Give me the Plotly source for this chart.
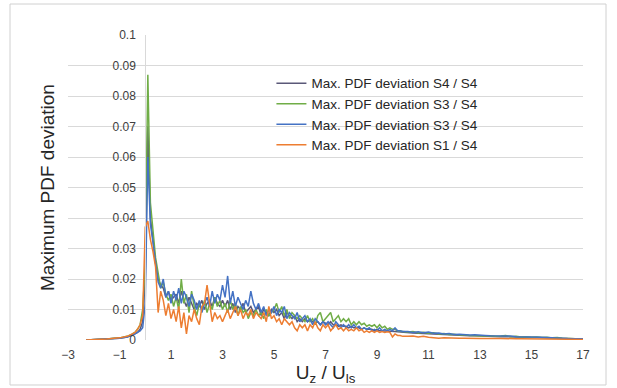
import plotly.graph_objects as go

# ---- sampling positions (U_z / U_ls) ----
x_left = [-2.3, -2.0, -1.5, -1.0, -0.7, -0.5, -0.4, -0.3, -0.2, -0.1]
x_core = [0.0, 0.1, 0.2, 0.3, 0.4, 0.5, 0.6, 0.7, 0.8, 0.9,
          1.0, 1.1, 1.2, 1.3, 1.4, 1.5, 1.6, 1.7, 1.8, 1.9,
          2.0, 2.1, 2.2, 2.3, 2.4, 2.5, 2.6, 2.7, 2.8, 2.9,
          3.0, 3.1, 3.2, 3.3, 3.4, 3.5, 3.6, 3.7, 3.8, 3.9,
          4.0, 4.1, 4.2, 4.3, 4.4, 4.5, 4.6, 4.7, 4.8, 4.9,
          5.0, 5.1, 5.2, 5.3, 5.4, 5.5, 5.6, 5.7, 5.8, 5.9,
          6.0, 6.1, 6.2, 6.3, 6.4, 6.5, 6.6, 6.7, 6.8, 6.9,
          7.0, 7.1, 7.2, 7.3, 7.4, 7.5, 7.6, 7.7, 7.8, 7.9,
          8.0, 8.1, 8.2, 8.3, 8.4, 8.5, 8.6, 8.7, 8.8, 8.9,
          9.0, 9.1, 9.2, 9.3, 9.4, 9.5, 9.6, 9.7, 9.8, 9.9,
          10.0]
x_tail = [10.2, 10.4, 10.6, 10.8, 11.0, 11.2, 11.4, 11.6, 11.8, 12.0,
          12.2, 12.4, 12.6, 12.8, 13.0, 13.2, 13.4, 13.6, 13.8, 14.0,
          14.2, 14.4, 14.6, 14.8, 15.0, 15.2, 15.4, 15.6, 15.8, 16.0,
          16.2, 16.4, 16.6, 16.8, 17.0]

# ---- series values, in thousandths of PDF deviation ----
s44_left = [0, 0.1, 0.3, 0.6, 1.0, 1.5, 2, 2.5, 3.5, 6]
s44_core = [20, 70, 40, 33, 25, 20, 18, 17, 14, 16, 13,
            14, 15, 12, 16, 13, 11, 14, 12, 10, 12, 11, 13, 10, 12, 13, 11, 14, 12, 11, 13,
            11, 13, 10, 12, 9, 11, 10, 12, 9, 10, 11, 9, 10, 11, 8, 10, 9, 8, 10, 9,
            10, 8, 9, 7, 9, 8, 7, 8, 6, 7,
            6, 7, 6, 6.5, 6, 5.5, 6, 5, 6, 5.5, 5, 6, 5, 5, 4.5, 5, 4.5, 4.5, 4, 4.5,
            4, 4, 4, 3.5, 4, 3.5, 3.5, 3.5, 3, 3.5, 3, 3, 3, 3, 2.8, 3, 2.8, 2.7, 2.6, 2.5]
s44_tail = [2.4, 2.3, 2.2, 2.1, 2.0, 2.0, 1.9, 1.8, 1.7, 1.6, 1.6, 1.5, 1.4, 1.4, 1.3,
            1.3, 1.2, 1.2, 1.1, 1.1, 1.0, 1.0, 0.9, 0.9, 0.8, 0.8, 0.7, 0.7, 0.6, 0.6,
            0.5, 0.5, 0.4, 0.4, 0.3]

s34g_left = [0, 0.1, 0.3, 0.7, 1.2, 2, 2.5, 3.5, 5, 10]
s34g_core = [25, 87, 45, 36, 27, 22, 17, 19, 15, 13, 15,
             11, 14, 10, 20, 12, 15, 9, 16, 11, 8, 12, 10, 13, 9, 12, 10, 14, 11, 13, 10,
             12, 9, 13, 10, 12, 8, 11, 9, 10, 7, 9, 8, 10, 8, 9, 7, 10, 8, 9, 10,
             12, 9, 11, 8, 10, 7, 9, 8, 7, 8,
             7, 6, 8, 6, 7, 5, 8, 9, 6, 7, 8, 9, 6, 7, 8, 6, 7, 6, 7, 5,
             6, 5, 6, 5, 5.5, 4.5, 5, 4.5, 5, 4, 5, 4, 4.5, 3.5, 4, 3.5, 3.5, 3, 3, 2.8]
s34g_tail = [2.6, 2.8, 2.3, 2.5, 2.2, 2.4, 2.0, 2.1, 1.8, 1.9, 1.6, 1.7, 1.5, 1.4, 1.5,
             1.3, 1.4, 1.2, 1.3, 1.5, 1.1, 1.2, 1.0, 1.1, 0.9, 1.0, 0.8, 0.9, 0.7, 0.8,
             0.6, 0.5, 0.4, 0.4, 0.3]

s34b_left = [0, 0.1, 0.3, 0.6, 1.0, 1.5, 2, 2.5, 3, 4]
s34b_core = [12, 60, 38, 32, 26, 19, 17, 20, 14, 16, 12,
             16, 13, 17, 12, 16, 14, 11, 15, 13, 10, 13, 9, 12, 14, 11, 16, 12, 15, 13, 18,
             14, 21, 12, 16, 11, 14, 12, 10, 13, 11, 16, 12, 10, 12, 9, 11, 8, 10, 9, 11,
             8, 10, 9, 11, 7, 9, 8, 7, 9, 6,
             7, 8, 6, 7, 5, 7, 6, 5, 6, 5, 6, 5, 4, 6, 5, 4, 5, 4, 5, 4,
             5, 4, 4.5, 3.5, 4, 3.5, 4, 3, 3.5, 3, 4, 3, 3.5, 3, 3.5, 3, 4, 3, 3, 2.8]
s34b_tail = [2.8, 2.5, 2.7, 2.4, 2.6, 2.2, 2.3, 2.0, 2.1, 1.8, 1.9, 1.7, 1.6, 1.7, 1.5,
             1.5, 1.4, 1.4, 1.3, 1.2, 1.3, 1.1, 1.1, 1.0, 1.0, 0.9, 0.9, 0.8, 0.8, 0.7,
             0.6, 0.5, 0.5, 0.4, 0.4]

s14_left = [0, 0.1, 0.3, 0.7, 1.2, 2, 2.5, 3.5, 5, 8]
s14_core = [37, 39, 33, 29, 24, 9, 16, 13, 8, 12, 7,
            10, 6, 11, 4, 9, 2, 8, 6, 10, 7, 5, 11, 12, 18, 12, 6, 9, 7, 8, 6,
            8, 10, 7, 9, 11, 8, 10, 7, 9, 8, 10, 7, 9, 8, 7, 9, 6, 11, 7, 8,
            6, 7, 5, 7, 6, 5, 6, 4, 3, 5,
            4, 5, 3, 5, 4, 6, 4, 3, 5, 4, 5, 3, 4, 5, 3.5, 4, 3, 4, 3, 3.5,
            3, 4, 3, 3.5, 2.5, 3, 2.5, 3, 2.5, 3, 2.5, 2.8, 2.5, 2.7, 2.5, 1, 2, 1.5, 1.5, 1.2]
s14_tail = [1.2, 1.3, 1.0, 1.2, 0.9, 0.7, 0.6, 0.7, 0.6, 0.7, 0.6, 0.6, 0.5, 0.6, 0.5,
            0.5, 0.6, 0.5, 0.5, 0.4, 0.5, 0.4, 0.4, 0.4, 0.3, 0.4, 0.3, 0.3, 0.3, 0.3,
            0.2, 0.2, 0.2, 0.2, 0.2]

names = ["Max. PDF deviation S4 / S4", "Max. PDF deviation S3 / S4",
         "Max. PDF deviation S3 / S4", "Max. PDF deviation S1 / S4"]
colors = ["#5a5878", "#70AD47", "#4472C4", "#ED7D31"]
x_tick_vals = [-3, -1, 1, 3, 5, 7, 9, 11, 13, 15, 17]

x_all = x_left + x_core + x_tail
series = [s44_left + s44_core + s44_tail,
          s34g_left + s34g_core + s34g_tail,
          s34b_left + s34b_core + s34b_tail,
          s14_left + s14_core + s14_tail]

FONT = "Liberation Sans, Arial, sans-serif"
fig = go.Figure()
for nm, col, vals in zip(names, colors, series):
    assert len(vals) == len(x_all), (nm, len(vals), len(x_all))
    fig.add_trace(go.Scatter(x=x_all, y=[v / 1000 for v in vals], mode="lines",
                             name=nm, line=dict(color=col, width=1.5)))

fig.update_layout(
    width=617, height=388,
    margin=dict(l=68, r=34, t=35, b=48, autoexpand=False),
    paper_bgcolor="white", plot_bgcolor="white",
    font=dict(family=FONT, color="#404040", size=12),
    showlegend=True,
    legend=dict(x=0.395, y=0.892, xanchor="left", yanchor="top",
                bgcolor="rgba(0,0,0,0)", font=dict(size=13.5, color="#262626"),
                itemwidth=30, tracegroupgap=0),
    xaxis=dict(range=[-3, 17], tickvals=x_tick_vals, showgrid=False,
               zeroline=False, showline=False, ticks="",
               tickfont=dict(size=12, color="#404040"), ticklabelstandoff=6,
               title=dict(text="U<sub>z</sub> / U<sub>ls</sub>",
                          font=dict(size=19, color="#262626"), standoff=4)),
    yaxis=dict(range=[0, 0.1], dtick=0.01, showgrid=True, gridcolor="#d9d9d9",
               gridwidth=1, anchor="free", position=0.15, showline=True,
               linecolor="#d9d9d9", zeroline=False, ticks="",
               tickfont=dict(size=12, color="#404040"), ticklabelstandoff=7),
    annotations=[dict(text="Maximum PDF deviation", textangle=-90,
                      xref="paper", yref="paper", x=-0.064, y=0.5,
                      showarrow=False, font=dict(size=19, color="#262626"))],
    shapes=[dict(type="rect", xref="paper", yref="paper",
                 x0=-0.1126, x1=1.0447, y0=-0.1475, y1=1.1016,
                 line=dict(color="#d0d0d0", width=1), layer="below")],
)

fig.write_html("out.html")
